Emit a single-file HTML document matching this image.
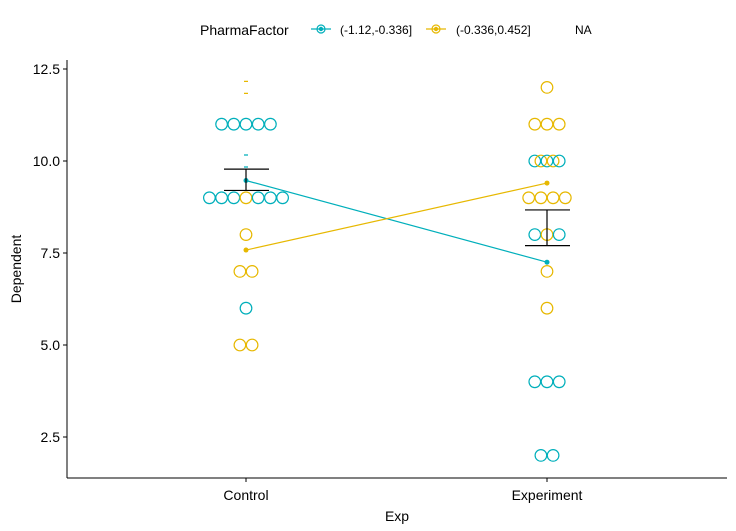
<!DOCTYPE html>
<html><head><meta charset="utf-8"><style>
body{margin:0;background:#fff;}
svg{display:block;font-family:"Liberation Sans",Arial,sans-serif;}
</style></head><body>
<svg id="chart" width="736" height="531">
<g>
  <text x="200" y="35" font-size="14" fill="#000">PharmaFactor</text>
  <g>
    <line x1="311" y1="29" x2="331" y2="29" stroke="#00AFBB" stroke-width="1.2"/>
    <circle cx="321" cy="29" r="4" fill="none" stroke="#00AFBB" stroke-width="1.2"/>
    <circle cx="321" cy="29" r="2.2" fill="#00AFBB"/>
    <text x="340" y="34" font-size="12">(-1.12,-0.336]</text>
  </g>
  <g>
    <line x1="426" y1="29" x2="446" y2="29" stroke="#E7B800" stroke-width="1.2"/>
    <circle cx="436" cy="29" r="4" fill="none" stroke="#E7B800" stroke-width="1.2"/>
    <circle cx="436" cy="29" r="2.2" fill="#E7B800"/>
    <text x="456" y="34" font-size="12">(-0.336,0.452]</text>
  </g>
  <text x="575" y="34" font-size="12">NA</text>
</g>
<g id="plot"></g>
</svg>
<script>
const categories=["Control","Experiment"];
const yTicks=[2.5,5.0,7.5,10.0,12.5];
const yTickLabels=["2.5","5.0","7.5","10.0","12.5"];
// dots: [category index, value, group(0=cyan,1=yellow), slot offset]
const dotCat=[0,0,0,0,0, 0,0,0,0,0,0,0, 0, 0,0, 0, 0,0, 1, 1,1,1, 1,1,1,1,1, 1,1,1,1, 1,1,1, 1, 1, 1,1,1, 1,1];
const dotVal=[11,11,11,11,11, 9,9,9,9,9,9,9, 8, 7,7, 6, 5,5, 12, 11,11,11, 10,10,10,10,10, 9,9,9,9, 8,8,8, 7, 6, 4,4,4, 2,2];
const dotGrp=[0,0,0,0,0, 0,0,0,1,0,0,0, 1, 1,1, 0, 1,1, 1, 1,1,1, 0,1,0,1,0, 1,1,1,1, 0,1,0, 1, 1, 0,0,0, 0,0];
const dotSlot=[-2,-1,0,1,2, -3,-2,-1,0,1,2,3, 0, -0.5,0.5, 0, -0.5,0.5, 0, -1,0,1, -1,-0.5,0,0.5,1, -1.5,-0.5,0.5,1.5, -1,0,1, 0, 0, -1,0,1, -0.5,0.5];
const meanCyan=[9.47,7.25];
const meanYellow=[7.58,9.40];
const errHi=[9.78,8.67];
const errLo=[9.2,7.7];
const colors=["#00AFBB","#E7B800"];

const L=67,R=727,T=60,B=478;
const xPos=i=>246+i*301;
const yPos=v=>161-(v-10)*36.8;
const NS="http://www.w3.org/2000/svg";
const g=document.getElementById('plot');
function mk(t,a,p){const e=document.createElementNS(NS,t);for(const k in a)e.setAttribute(k,a[k]);(p||g).appendChild(e);return e;}

let ax=mk('line',{x1:L,y1:T,x2:L,y2:B,stroke:'#000','stroke-width':1});


let bx=mk('line',{x1:L,y1:B,x2:R,y2:B,stroke:'#000','stroke-width':1});


yTicks.forEach((v,i)=>{
  mk('line',{x1:L-4,y1:yPos(v),x2:L,y2:yPos(v),stroke:'#000'});
  const t=mk('text',{x:L-7,y:yPos(v)+5,'text-anchor':'end','font-size':14,fill:'#000'});
  t.textContent=yTickLabels[i];
  
  
});
categories.forEach((c,i)=>{
  mk('line',{x1:xPos(i),y1:B,x2:xPos(i),y2:B+4,stroke:'#000'});
  const t=mk('text',{x:xPos(i),y:B+22,'text-anchor':'middle','font-size':14,fill:'#000'});
  t.textContent=c;
  
  
});
let xt=mk('text',{x:397,y:521,'text-anchor':'middle','font-size':14});
xt.textContent='Exp';


let yt=mk('text',{x:21,y:269,'text-anchor':'middle','font-size':14,transform:'rotate(-90 21 269)'});
yt.textContent='Dependent';



// partially hidden dots
[[0,12,1],[0,10,0]].forEach(d=>{
  const x=xPos(d[0]),y=yPos(d[1]);
  const p=mk('path',{d:`M${x-2},${y-6}h4M${x-2},${y+6}h4`,stroke:colors[d[2]],'stroke-width':1.2});
  
  
});
dotVal.forEach((v,i)=>{
  const c=mk('circle',{cx:xPos(dotCat[i])+dotSlot[i]*12.2,cy:yPos(v),r:5.8,fill:'none',stroke:colors[dotGrp[i]],'stroke-width':1.2});
  
  
});
[meanCyan,meanYellow].forEach((m,k)=>{
  const ln=mk('line',{x1:xPos(0),y1:yPos(m[0]),x2:xPos(1),y2:yPos(m[1]),stroke:colors[k],'stroke-width':1.2});
  
  
  m.forEach((v,i)=>{
    const c=mk('circle',{cx:xPos(i),cy:yPos(v),r:2.5,fill:colors[k]});
    
    
  });
});
errHi.forEach((h,i)=>{
  const x=xPos(i),a=yPos(h),b=yPos(errLo[i]);
  const p=mk('path',{d:`M${x-22},${a}H${x+23}M${x},${a}V${b}M${x-22},${b}H${x+23}`,stroke:'#000','stroke-width':1.2,fill:'none'});
  
  
});
</script>
</body></html>
